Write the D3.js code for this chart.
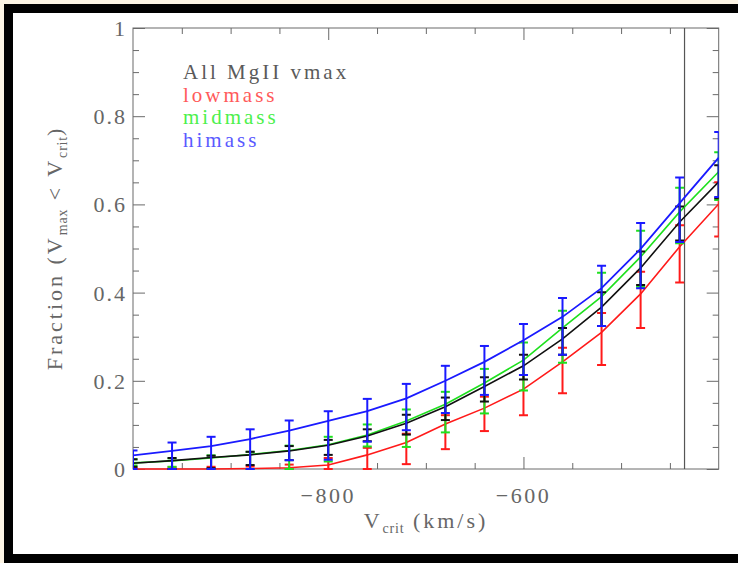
<!DOCTYPE html>
<html>
<head>
<meta charset="utf-8">
<script src="https://cdn.jsdelivr.net/npm/d3@7"></script>
<style>
  html, body { margin: 0; padding: 0; background: #fcf4e4; }
  svg { display: block; }
  text { font-family: "Liberation Serif", "DejaVu Serif", serif; fill: #666666; }
</style>
</head>
<body>
<svg id="chart" width="738" height="563"></svg>
<script>
// Critical velocity bins (km/s)
const vcrit = [-1000, -960, -920, -880, -840, -800, -760, -720, -680, -640, -600, -560, -520, -480, -440, -400];

// Cumulative fraction with V_max < V_crit, with lower / upper error limits
const allFrac = [0.013, 0.019, 0.026, 0.032, 0.041, 0.054, 0.075, 0.104, 0.141, 0.187, 0.234, 0.295, 0.367, 0.456, 0.560, 0.651];
const allLo   = [0.005, 0.000, 0.002, 0.009, 0.020, 0.032, 0.063, 0.078, 0.111, 0.153, 0.203, 0.259, 0.324, 0.417, 0.518, 0.614];
const allHi   = [0.022, 0.025, 0.030, 0.039, 0.052, 0.066, 0.090, 0.123, 0.162, 0.208, 0.259, 0.320, 0.401, 0.493, 0.595, 0.689];

const lowFrac = [0.000, 0.000, 0.000, 0.001, 0.003, 0.009, 0.032, 0.060, 0.102, 0.138, 0.181, 0.243, 0.310, 0.397, 0.504, 0.601];
const lowLo   = [0.000, 0.000, 0.000, 0.000, 0.000, 0.000, 0.000, 0.011, 0.045, 0.086, 0.122, 0.172, 0.236, 0.320, 0.423, 0.527];
const lowHi   = [0.003, 0.004, 0.005, 0.006, 0.010, 0.025, 0.048, 0.080, 0.122, 0.164, 0.213, 0.275, 0.354, 0.447, 0.553, 0.650];

const midFrac = [0.014, 0.018, 0.025, 0.033, 0.042, 0.055, 0.077, 0.109, 0.147, 0.195, 0.247, 0.320, 0.391, 0.481, 0.583, 0.674];
const midLo   = [0.008, 0.005, 0.000, 0.000, 0.000, 0.017, 0.051, 0.050, 0.083, 0.126, 0.178, 0.241, 0.324, 0.413, 0.512, 0.610];
const midHi   = [0.022, 0.024, 0.031, 0.039, 0.053, 0.073, 0.101, 0.135, 0.175, 0.227, 0.287, 0.359, 0.445, 0.540, 0.638, 0.718];

const hiFrac  = [0.031, 0.041, 0.052, 0.068, 0.087, 0.109, 0.131, 0.160, 0.200, 0.243, 0.292, 0.345, 0.410, 0.499, 0.603, 0.706];
const hiLo    = [0.000, 0.000, 0.000, 0.000, 0.020, 0.021, 0.062, 0.088, 0.127, 0.168, 0.213, 0.259, 0.324, 0.410, 0.515, 0.617];
const hiHi    = [0.042, 0.060, 0.073, 0.090, 0.110, 0.131, 0.159, 0.193, 0.234, 0.279, 0.329, 0.388, 0.461, 0.558, 0.661, 0.764];

const seriesNames = ["All MgII vmax", "lowmass", "midmass", "himass"];
const xTickValues = [-800, -600];
const yTickValues = [0, 0.2, 0.4, 0.6, 0.8, 1];
const vLine = -435;

const svg = d3.select("#chart");

// Picture frame
svg.append("rect").attr("x", 4).attr("y", 4).attr("width", 740).attr("height", 565).attr("fill", "#000");
svg.append("rect").attr("x", 13).attr("y", 13).attr("width", 730).attr("height", 541).attr("fill", "#fff");

const plotL = 133, plotR = 718.7, plotT = 28, plotB = 469;
const x = d3.scaleLinear().domain([-1000, -400]).range([plotL, plotR]);
const y = d3.scaleLinear().domain([0, 1]).range([plotB, plotT]);

svg.append("defs").append("clipPath").attr("id", "plotClip")
  .append("rect").attr("x", plotL).attr("y", plotT - 2).attr("width", plotR - plotL).attr("height", plotB - plotT + 4);

const axisColor = "#6a6a6a";
const majorLen = 12, minorLen = 6;

// Axes on all four sides: major ticks labelled on bottom/left, minor ticks unlabelled
function tickAxis(axisGen, transform, ticks, len) {
  const g = svg.append("g").attr("transform", transform)
    .call(axisGen.tickValues(ticks).tickSize(len).tickFormat(""));
  g.selectAll("path.domain").remove();
  g.selectAll("line").attr("stroke", axisColor).attr("stroke-width", 1);
  return g;
}
const xMinor = [-950, -900, -850, -750, -700, -650, -550, -500, -450];
const yMinor = [0.05, 0.1, 0.15, 0.25, 0.3, 0.35, 0.45, 0.5, 0.55, 0.65, 0.7, 0.75, 0.85, 0.9, 0.95];

tickAxis(d3.axisTop(x), `translate(0,${plotB})`, xTickValues, majorLen);
tickAxis(d3.axisTop(x), `translate(0,${plotB})`, xMinor, minorLen);
tickAxis(d3.axisBottom(x), `translate(0,${plotT})`, xTickValues, majorLen);
tickAxis(d3.axisBottom(x), `translate(0,${plotT})`, xMinor, minorLen);
tickAxis(d3.axisRight(y), `translate(${plotL},0)`, yTickValues, majorLen);
tickAxis(d3.axisRight(y), `translate(${plotL},0)`, yMinor, minorLen);
tickAxis(d3.axisLeft(y), `translate(${plotR},0)`, yTickValues, majorLen);
tickAxis(d3.axisLeft(y), `translate(${plotR},0)`, yMinor, minorLen);

svg.append("rect").attr("x", plotL).attr("y", plotT).attr("width", plotR - plotL).attr("height", plotB - plotT)
  .attr("fill", "none").attr("stroke", axisColor).attr("stroke-width", 1);

// Tick labels
const fmtY = d => d === 0 ? "0" : d === 1 ? "1" : d3.format(".1f")(d);
svg.append("g").selectAll("text").data(yTickValues).join("text")
  .attr("x", plotL - 6).attr("y", d => y(d) + 8)
  .attr("text-anchor", "end").attr("font-size", 22).attr("letter-spacing", 2)
  .text(fmtY);
svg.append("g").selectAll("text").data(xTickValues).join("text")
  .attr("x", d => x(d)).attr("y", plotB + 34)
  .attr("text-anchor", "middle").attr("font-size", 22).attr("letter-spacing", 2.5)
  .text(d => "\u2212" + Math.abs(d));

// Axis titles
const xt = svg.append("text").attr("x", 426).attr("y", 528).attr("text-anchor", "middle")
  .attr("font-size", 22).attr("letter-spacing", 3);
xt.append("tspan").text("V");
xt.append("tspan").attr("font-size", 14).attr("dy", 5).attr("letter-spacing", 0.8).text("crit");
xt.append("tspan").attr("dy", -5).text("  (km/s)");

const yt = svg.append("text").attr("transform", "translate(62,248) rotate(-90)").attr("text-anchor", "middle")
  .attr("font-size", 22).attr("letter-spacing", 3);
yt.append("tspan").text("Fraction  (V");
yt.append("tspan").attr("font-size", 14).attr("dy", 5).attr("letter-spacing", 0.8).text("max");
yt.append("tspan").attr("dy", -5).text("  <  V");
yt.append("tspan").attr("font-size", 14).attr("dy", 5).attr("letter-spacing", 0.8).text("crit");
yt.append("tspan").attr("dy", -5).text(")");

// Reference velocity marker
svg.append("line").attr("x1", x(vLine)).attr("x2", x(vLine)).attr("y1", plotT).attr("y2", plotB)
  .attr("stroke", "#555").attr("stroke-width", 1.2);

// Data series (drawn low → high so the blue sits on top)
const series = [
  { frac: lowFrac, lo: lowLo, hi: lowHi, color: "#ff1a1a", width: 1.6 },
  { frac: midFrac, lo: midLo, hi: midHi, color: "#1ee01e", width: 1.6 },
  { frac: allFrac, lo: allLo, hi: allHi, color: "#111111", width: 1.6 },
  { frac: hiFrac,  lo: hiLo,  hi: hiHi,  color: "#1a1aff", width: 1.8 }
];

const plot = svg.append("g").attr("clip-path", "url(#plotClip)");
const line = d3.line().x(d => x(d.v)).y(d => y(d.f));
const cap = 4.5;

series.forEach(s => {
  const pts = vcrit.map((v, i) => ({ v, f: s.frac[i], lo: s.lo[i], hi: s.hi[i] }));
  plot.append("path").datum(pts).attr("d", line)
    .attr("fill", "none").attr("stroke", s.color).attr("stroke-width", s.width);
  const eb = plot.append("g").attr("stroke", s.color).attr("stroke-width", 2);
  eb.selectAll("line.v").data(pts).join("line").attr("class", "v")
    .attr("x1", d => x(d.v)).attr("x2", d => x(d.v))
    .attr("y1", d => y(d.lo)).attr("y2", d => y(d.hi));
  eb.selectAll("line.t").data(pts).join("line").attr("class", "t")
    .attr("x1", d => x(d.v) - cap).attr("x2", d => x(d.v) + cap)
    .attr("y1", d => y(d.hi)).attr("y2", d => y(d.hi));
  eb.selectAll("line.b").data(pts).join("line").attr("class", "b")
    .attr("x1", d => x(d.v) - cap).attr("x2", d => x(d.v) + cap)
    .attr("y1", d => y(d.lo)).attr("y2", d => y(d.lo));
});

// Legend
const legendColors = ["#5a5a5a", "#ff5a5a", "#4cf04c", "#5a5aff"];
svg.append("g").selectAll("text").data(seriesNames).join("text")
  .attr("x", 183).attr("y", (d, i) => 79 + i * 22.5)
  .attr("font-size", 21).attr("letter-spacing", 3)
  .style("fill", (d, i) => legendColors[i])
  .text(d => d);
</script>
</body>
</html>
